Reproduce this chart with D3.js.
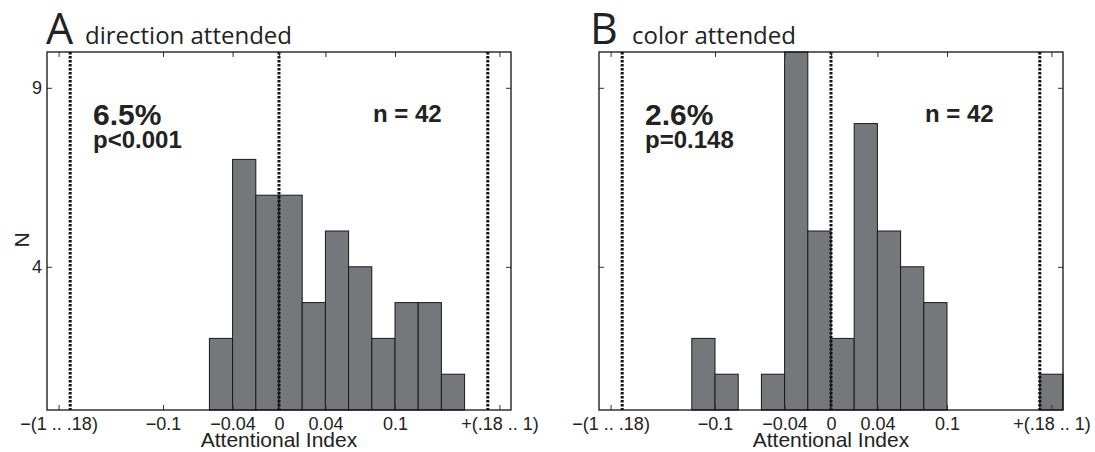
<!DOCTYPE html>
<html lang="en">
<head>
    <meta charset="UTF-8">
    <title>Attentional Index</title>
    <script src="https://d3js.org/d3.v7.min.js"></script>
    <style>
        body {
            margin: 0;
            background: white;
        }
        .tick text {
            font-family: "Liberation Sans", Arial, sans-serif;
            font-size: 18px;
            fill: #222;
        }
        .tick line {
            stroke: #333;
        }
    </style>
</head>
<body>
<svg id="viz"></svg>
<script>
    // bin left edges and counts (bin width 0.02, outer bins hold the overflow)
    var binWidth = 0.02;
    var binsA = [-0.06, -0.04, -0.02, 0, 0.02, 0.04, 0.06, 0.08, 0.10, 0.12, 0.14];
    var countsA = [2, 7, 6, 6, 3, 5, 4, 2, 3, 3, 1];
    var binsB = [-0.12, -0.10, -0.08, -0.06, -0.04, -0.02, 0, 0.02, 0.04, 0.06, 0.08, 0.18];
    var countsB = [2, 1, 0, 1, 10, 5, 2, 8, 5, 4, 3, 1];

    var xTickValues = [-0.19, -0.1, -0.04, 0, 0.04, 0.1, 0.19];
    var xTickLabels = ["\u2212(1 .. .18)", "\u22120.1", "\u22120.04", "0", "0.04", "0.1", "+(.18 .. 1)"];
    var yTickValues = [4, 9];
    var cutoffs = [-0.18, 0, 0.18];

    var panels = [
        {letter: "A", title: "direction attended", bins: binsA, counts: countsA,
            pct: "6.5%", p: "p<0.001", n: "n = 42", left: 47, yLabels: true, letterX: -1, titleX: 38},
        {letter: "B", title: "color attended", bins: binsB, counts: countsB,
            pct: "2.6%", p: "p=0.148", n: "n = 42", left: 599, yLabels: false, letterX: -9, titleX: 33}
    ];

    var W = 464, H = 358, plotTop = 52;

    var svg = d3.select("#viz")
        .attr("width", 1095)
        .attr("height", 452);

    var xScale = d3.scaleLinear().domain([-0.2, 0.2]).range([0, W]);
    var yScale = d3.scaleLinear().domain([0, 10]).range([H, 0]);

    panels.forEach(function (pn) {
        var g = svg.append("g").attr("transform", "translate(" + pn.left + "," + plotTop + ")");

        var data = pn.bins.map(function (b, i) { return {x0: b, count: pn.counts[i]}; })
            .filter(function (d) { return d.count > 0; });

        g.selectAll("rect.bar")
            .data(data)
            .enter()
            .append("rect")
            .attr("class", "bar")
            .attr("x", function (d) { return xScale(d.x0); })
            .attr("width", function (d) { return xScale(d.x0 + binWidth) - xScale(d.x0); })
            .attr("y", function (d) { return yScale(d.count); })
            .attr("height", function (d) { return yScale(0) - yScale(d.count); })
            .attr("fill", "#76777b")
            .attr("stroke", "#1a1a1a")
            .attr("stroke-width", 1);

        g.selectAll("line.cut")
            .data(cutoffs)
            .enter()
            .append("line")
            .attr("class", "cut")
            .attr("x1", function (d) { return xScale(d); })
            .attr("x2", function (d) { return xScale(d); })
            .attr("y1", yScale(10))
            .attr("y2", yScale(0))
            .attr("stroke", "#111")
            .attr("stroke-width", 3)
            .attr("stroke-dasharray", "2.5,1.5");

        // axes, ticks pointing inward
        var xAxis = d3.axisBottom(xScale)
            .tickValues(xTickValues)
            .tickFormat(function (d, i) { return xTickLabels[i]; })
            .tickSizeInner(-5).tickSizeOuter(0).tickPadding(7);
        var gx = g.append("g").attr("transform", "translate(0," + H + ")").call(xAxis);
        gx.select(".domain").remove();

        var xTop = d3.axisTop(xScale).tickValues(xTickValues).tickFormat("")
            .tickSizeInner(-5).tickSizeOuter(0);
        g.append("g").call(xTop).select(".domain").remove();

        var yAxis = d3.axisLeft(yScale).tickValues(yTickValues)
            .tickFormat(pn.yLabels ? d3.format("d") : "")
            .tickSizeInner(-5).tickSizeOuter(0).tickPadding(5);
        g.append("g").call(yAxis).select(".domain").remove();

        var yRight = d3.axisRight(yScale).tickValues(yTickValues).tickFormat("")
            .tickSizeInner(-5).tickSizeOuter(0);
        g.append("g").attr("transform", "translate(" + W + ",0)").call(yRight).select(".domain").remove();

        g.append("rect")
            .attr("x", 0).attr("y", 0)
            .attr("width", W).attr("height", H)
            .attr("fill", "none")
            .attr("stroke", "#111")
            .attr("stroke-width", 1.3);

        // labels
        g.append("text")
            .attr("x", W / 2).attr("y", 395)
            .attr("text-anchor", "middle")
            .style("font-family", "'Liberation Sans', Arial, sans-serif")
            .style("font-size", "21px")
            .attr("fill", "#222")
            .text("Attentional Index");

        g.append("text")
            .attr("x", pn.letterX).attr("y", -8)
            .style("font-family", "'Open Sans', sans-serif")
            .style("font-size", "43px")
            .attr("fill", "#222")
            .text(pn.letter);
        g.append("text")
            .attr("x", pn.titleX).attr("y", -8)
            .style("font-family", "'Open Sans', sans-serif")
            .style("font-size", "24px")
            .attr("fill", "#222")
            .text(pn.title);

        var bold = function (sel, size) {
            return sel.style("font-family", "'Liberation Sans', Arial, sans-serif")
                .style("font-weight", "bold")
                .style("font-size", size)
                .attr("fill", "#222");
        };
        bold(g.append("text").attr("x", 46).attr("y", 73).text(pn.pct), "30px");
        bold(g.append("text").attr("x", 46).attr("y", 96).text(pn.p), "24px");
        bold(g.append("text").attr("x", 326).attr("y", 70).text(pn.n), "24px");
    });

    svg.append("text")
        .attr("transform", "translate(29,240) rotate(-90)")
        .attr("text-anchor", "middle")
        .style("font-family", "'Liberation Sans', Arial, sans-serif")
        .style("font-size", "21px")
        .attr("fill", "#222")
        .text("N");
</script>
</body>
</html>
